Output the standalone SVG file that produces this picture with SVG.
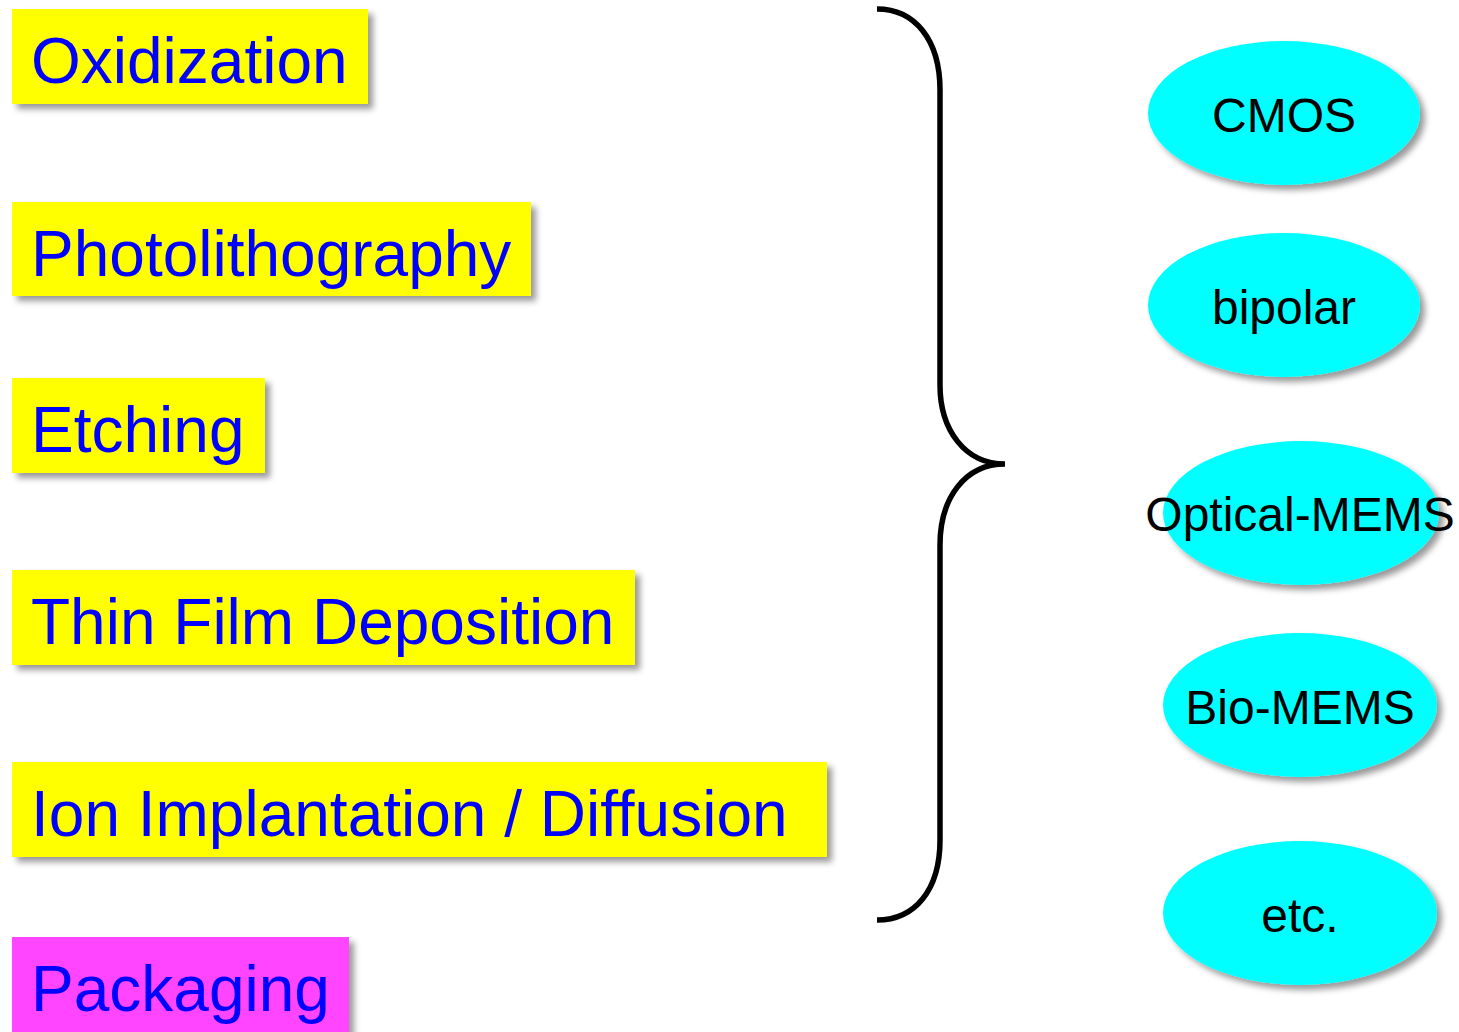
<svg xmlns="http://www.w3.org/2000/svg" width="1459" height="1032" viewBox="0 0 1459 1032">
<style>
.step{fill:#FFFF00;filter:url(#sh)}
.pack{fill:#FF44FF;filter:url(#sh)}
.st{font-family:"Liberation Sans",Arial,sans-serif;font-size:64px;fill:#0000FF}
.ell{fill:#00FFFF;filter:url(#sh)}
.et{font-family:"Liberation Sans",Arial,sans-serif;font-size:48px;fill:#000;text-anchor:middle}
.brace{fill:none;stroke:#000;stroke-width:5.5}
</style>
<defs>
<filter id="sh" x="-10%" y="-10%" width="130%" height="140%">
<feDropShadow dx="5" dy="5" stdDeviation="3" flood-color="#000" flood-opacity="0.4"/>
</filter>
</defs>
<g id="oxidization"><rect class="step" x="12" y="9" width="356" height="95"/><text class="st" x="31" y="83">Oxidization</text></g>
<g id="photolithography"><rect class="step" x="12" y="202" width="519" height="94"/><text class="st" x="31" y="276">Photolithography</text></g>
<g id="etching"><rect class="step" x="12" y="378" width="253" height="95"/><text class="st" x="31" y="452">Etching</text></g>
<g id="thinfilm"><rect class="step" x="12" y="570" width="623" height="95"/><text class="st" x="31" y="644">Thin Film Deposition</text></g>
<g id="ion"><rect class="step" x="12" y="762" width="815" height="95"/><text class="st" x="31" y="836">Ion Implantation / Diffusion</text></g>
<g id="packaging"><rect class="pack" x="12" y="937" width="337" height="100"/><text class="st" x="31" y="1011">Packaging</text></g>
<g id="connectors"><path class="brace" d="M877,9 C915,9 940,40 940,90 L940,385 C940,430 965,464 1005,464 C965,464 940,498 940,545 L940,840 C940,890 915,920 877,920"/></g>
<g id="cmos"><ellipse class="ell" cx="1284" cy="113" rx="136" ry="72"/><text class="et" x="1284" y="132">CMOS</text></g>
<g id="bipolar"><ellipse class="ell" cx="1284" cy="305" rx="136" ry="72"/><text class="et" x="1284" y="324">bipolar</text></g>
<g id="optical"><ellipse class="ell" cx="1301" cy="513" rx="138" ry="72"/><text class="et" x="1300" y="531">Optical-MEMS</text></g>
<g id="bio"><ellipse class="ell" cx="1300" cy="705" rx="137" ry="72"/><text class="et" x="1300" y="724">Bio-MEMS</text></g>
<g id="etc"><ellipse class="ell" cx="1300" cy="913" rx="137" ry="72"/><text class="et" x="1300" y="932">etc.</text></g>
</svg>
